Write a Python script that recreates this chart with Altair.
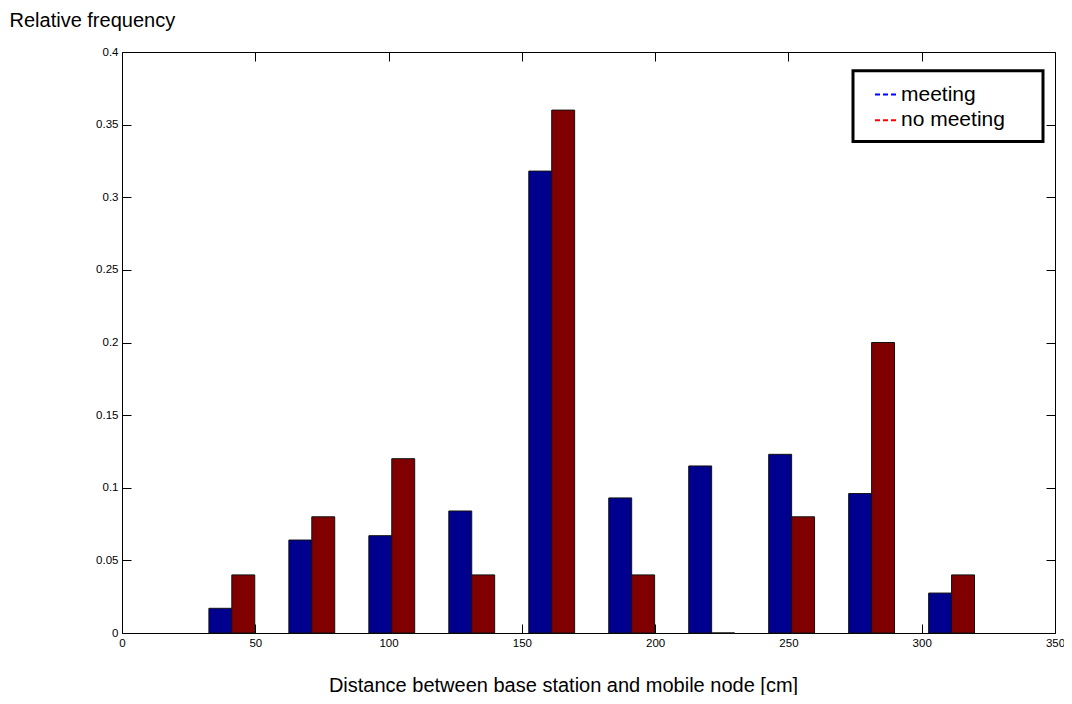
import altair as alt
import pandas as pd

# ---- data ----
bin_centers = [41.2, 71.2, 101.2, 131.2, 161.2, 191.2, 221.2, 251.2, 281.2, 311.2]
meeting = [0.017, 0.064, 0.067, 0.084, 0.318, 0.093, 0.115, 0.123, 0.096, 0.0275]
no_meeting = [0.04, 0.08, 0.12, 0.04, 0.36, 0.04, 0.0, 0.08, 0.20, 0.04]
series_names = ["meeting", "no meeting"]
bar_colors = ["#00008F", "#800000"]
legend_colors = ["#0000FF", "#FF0000"]
x_ticks = [0, 50, 100, 150, 200, 250, 300, 350]
y_ticks = [0, 0.05, 0.1, 0.15, 0.2, 0.25, 0.3, 0.35, 0.4]

BAR_W = 8.6
W, H = 933, 581
FONT = "Liberation Sans"

rows = []
for c, m, n in zip(bin_centers, meeting, no_meeting):
    rows.append({"series": "meeting", "x0": c - BAR_W, "x1": c, "value": m})
    rows.append({"series": "no meeting", "x0": c, "x1": c + BAR_W, "value": n})
df = pd.DataFrame(rows)

xscale = alt.Scale(domain=[0, 350], nice=False, zero=False)
yscale = alt.Scale(domain=[0, 0.4], nice=False)
color = alt.Color("series:N", scale=alt.Scale(domain=series_names, range=bar_colors), legend=None)

base = alt.Chart(df)

bars = base.mark_bar(stroke="#111111", strokeWidth=1).encode(
    x=alt.X("x0:Q", scale=xscale, axis=alt.Axis(
        orient="bottom", values=x_ticks, ticks=False, tickSize=0, domain=False, grid=False,
        labelFontSize=11.5, labelPadding=4, labelFlush=False, labelOverlap=False,
        title="Distance between base station and mobile node [cm]",
        titleFontSize=20, titleFontWeight="normal", titleX=441, titleY=58,
        titleAlign="center", titleBaseline="alphabetic")),
    x2="x1:Q",
    y=alt.Y("value:Q", scale=yscale, axis=alt.Axis(
        orient="left", values=y_ticks, format="~g", ticks=False, tickSize=0, domain=False, grid=False,
        labelFontSize=11.5, labelPadding=4, labelFlush=False, labelOverlap=False,
        title="Relative frequency", titleAngle=0, titleFontSize=20, titleFontWeight="normal",
        titleX=-113, titleY=-26, titleAlign="left", titleBaseline="alphabetic")),
    y2=alt.datum(0),
    color=color,
)

tick_axis = dict(labels=False, domain=False, grid=False, ticks=True, tickSize=9, title=None)

ticks_a = base.mark_bar(opacity=0).encode(
    x=alt.X("x0:Q", scale=xscale, axis=alt.Axis(orient="top", offset=-H, values=x_ticks, **tick_axis)),
    x2="x1:Q",
    y=alt.Y("value:Q", scale=yscale, axis=alt.Axis(orient="right", offset=-W, values=y_ticks, **tick_axis)),
    y2=alt.datum(0),
)
ticks_b = base.mark_bar(opacity=0).encode(
    x=alt.X("x0:Q", scale=xscale, axis=alt.Axis(orient="bottom", offset=-H, values=x_ticks, **tick_axis)),
    x2="x1:Q",
    y=alt.Y("value:Q", scale=yscale, axis=alt.Axis(orient="left", offset=-W, values=y_ticks, **tick_axis)),
    y2=alt.datum(0),
)

one = pd.DataFrame({"k": [0]})
legend_layers = [
    alt.Chart(one).mark_rect(fill="white", stroke="black", strokeWidth=3).encode(
        x=alt.value(731), x2=alt.value(921), y=alt.value(18.8), y2=alt.value(89.6))
]
for i, (name, col) in enumerate(zip(series_names, legend_colors)):
    yy = 42.6 + i * 25.7
    legend_layers.append(
        alt.Chart(one).mark_rule(color=col, strokeWidth=2, strokeDash=[5, 3]).encode(
            x=alt.value(753), x2=alt.value(774), y=alt.value(yy)))
    legend_layers.append(
        alt.Chart(one).mark_text(align="left", baseline="middle", font=FONT, fontSize=21,
                                 color="black").encode(
            x=alt.value(779), y=alt.value(yy), text=alt.value(name)))

chart = alt.layer(bars, ticks_a, ticks_b, *legend_layers).resolve_axis(
    x="independent", y="independent"
).properties(
    width=W, height=H,
    padding={"left": 114, "top": 44, "right": 9, "bottom": 62},
    autosize=alt.AutoSizeParams(type="none"),
    background="white",
).configure_view(
    stroke="black", strokeWidth=1
).configure_axis(
    labelFont=FONT, titleFont=FONT, labelColor="black", titleColor="black",
    tickColor="black", tickWidth=1,
)

chart.save("out.html", embed_options={"renderer": "svg", "actions": False})
